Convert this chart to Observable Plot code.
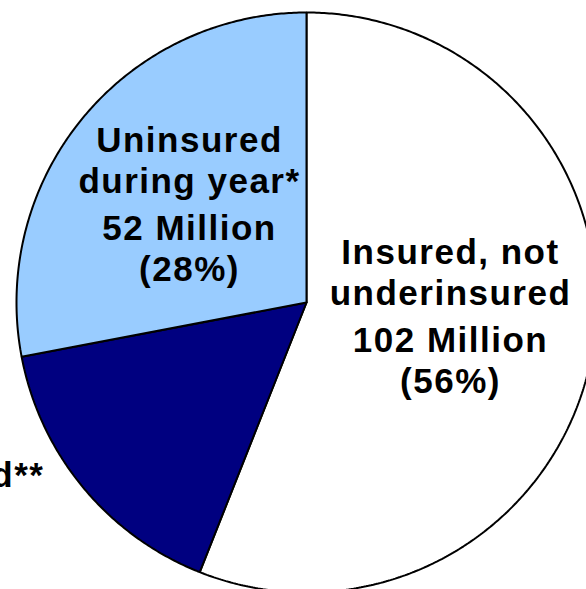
<!DOCTYPE html>
<html>
<head>
<meta charset="utf-8">
<script src="https://cdn.jsdelivr.net/npm/d3@7"></script>
<script src="https://cdn.jsdelivr.net/npm/@observablehq/plot@0.6"></script>
<style>
  html, body { margin: 0; padding: 0; background: #fff; overflow: hidden; }
  svg { overflow: hidden; display: block; }
</style>
</head>
<body>
<div id="chart"></div>
<script>
// Data (clockwise from 12 o'clock)
const categories = ["Insured, not underinsured", "Underinsured", "Uninsured during year"];
const percents = [56, 16, 28];
const millions = [102, null, 52];
const labelLines = [
  ["Insured, not", "underinsured", "102 Million", "(56%)"],
  ["Underinsured**"],
  ["Uninsured", "during year*", "52 Million", "(28%)"]
];
const colors = ["#FFFFFF", "#000080", "#99CCFF"];

// Layout (not data): label anchor x and line baselines, in pixels
const W = 586, H = 589, cx = 306, cy = 302, R = 290, FS = 35;
const labelLayout = [
  {x: 450, baselines: [263, 304.5, 351, 392], anchor: "middle"},
  {x: 44, baselines: [486], anchor: "end"},
  {x: 189, baselines: [151, 192.5, 239, 280], anchor: "middle"}
];

const pie = d3.pie().sort(null).value(d => d)(percents);
const polys = [];
pie.forEach((s, i) => {
  const name = categories[i];
  polys.push({slice: name, x: 0, y: 0});
  const n = Math.max(2, Math.ceil((s.endAngle - s.startAngle) / (2 * Math.PI) * 720));
  for (let k = 0; k <= n; k++) {
    const a = s.startAngle + (s.endAngle - s.startAngle) * k / n;
    polys.push({slice: name, x: Math.sin(a), y: Math.cos(a)});
  }
  polys.push({slice: name, x: 0, y: 0});
});

// label rows in unit-circle coordinates (top of each line box)
const labels = [];
categories.forEach((c, i) => {
  const L = labelLayout[i];
  labelLines[i].forEach((t, j) => {
    const topPx = L.baselines[j] - 0.71 * FS;
    labels.push({
      text: t, anchor: L.anchor,
      x: (L.x - cx) / R,
      y: (cy - topPx) / R
    });
  });
});

const textOpts = {
  x: "x", y: "y", text: "text", lineAnchor: "top", lineHeight: 1,
  fontSize: FS, fontWeight: "bold",
  fontFamily: "Liberation Sans, Arial, sans-serif", fill: "black"
};

const chart = Plot.plot({
  width: W, height: H,
  margin: 0,
  style: {letterSpacing: "1.5px", background: "white"},
  x: {domain: [-cx / R, (W - cx) / R], axis: null},
  y: {domain: [-(H - cy) / R, cy / R], axis: null},
  color: {domain: categories, range: colors},
  marks: [
    Plot.line(polys, {x: "x", y: "y", z: "slice", fill: "slice", stroke: "black", strokeWidth: 2, strokeLinejoin: "miter", curve: "linear"}),
    Plot.text(labels.filter(d => d.anchor === "middle"), {...textOpts, textAnchor: "middle"}),
    Plot.text(labels.filter(d => d.anchor === "end"), {...textOpts, textAnchor: "end"})
  ]
});
document.getElementById("chart").appendChild(chart);
</script>
</body>
</html>
